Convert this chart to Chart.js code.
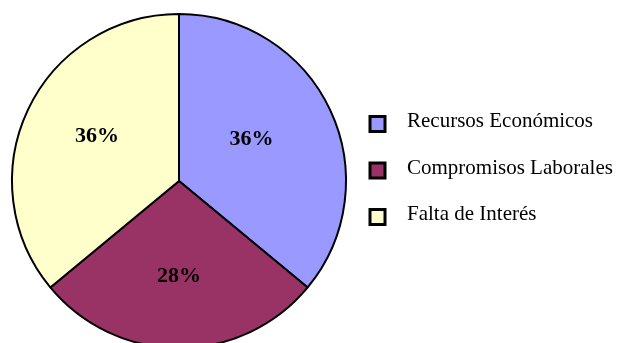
<!DOCTYPE html>
<html>
<head>
<meta charset="utf-8">
<script src="https://cdn.jsdelivr.net/npm/chart.js@4.4.1/dist/chart.umd.min.js"></script>
<style>
  html, body { margin: 0; padding: 0; background: #fff; overflow: hidden; }
  #wrap { position: relative; width: 619px; height: 343px; }
</style>
</head>
<body>
<div id="wrap"><canvas id="pie" width="619" height="343"></canvas></div>
<script>
const categories = ['Recursos Económicos', 'Compromisos Laborales', 'Falta de Interés'];
const values = [36, 28, 36];
const sliceColors = ['#9999FF', '#993366', '#FFFFCC'];

// percentage labels inside each slice
const sliceLabels = {
  id: 'sliceLabels',
  afterDatasetsDraw(chart, args, opts) {
    const ctx = chart.ctx;
    const meta = chart.getDatasetMeta(0);
    const total = values.reduce((a, b) => a + b, 0);
    ctx.save();
    ctx.font = 'bold 22px "Liberation Serif", "Times New Roman", serif';
    ctx.fillStyle = '#000';
    ctx.textAlign = 'center';
    ctx.textBaseline = 'middle';
    meta.data.forEach((arc, i) => {
      const p = arc.getProps(['x', 'y', 'startAngle', 'endAngle', 'outerRadius'], true);
      const mid = (p.startAngle + p.endAngle) / 2 + opts.shift[i];
      const r = p.outerRadius * opts.radius[i];
      const txt = Math.round(values[i] / total * 100) + '%';
      ctx.fillText(txt, p.x + Math.cos(mid) * r, p.y + Math.sin(mid) * r);
    });
    ctx.restore();
  }
};

// legend on the right: bordered squares and serif text
const sideLegend = {
  id: 'sideLegend',
  afterDraw(chart, args, opts) {
    const ctx = chart.ctx;
    const s = opts.box;
    ctx.save();
    ctx.font = '21px "Liberation Serif", "Times New Roman", serif';
    ctx.textBaseline = 'alphabetic';
    ctx.textAlign = 'left';
    chart.data.labels.forEach((lab, i) => {
      const cy = opts.top + i * opts.step;
      ctx.fillStyle = sliceColors[i];
      ctx.fillRect(opts.x, cy - s / 2, s, s);
      ctx.lineWidth = 3;
      ctx.strokeStyle = '#000';
      ctx.strokeRect(opts.x, cy - s / 2, s, s);
      ctx.fillStyle = '#000';
      ctx.fillText(lab, opts.textX, cy + 3);
    });
    ctx.restore();
  }
};

new Chart(document.getElementById('pie'), {
  type: 'pie',
  data: {
    labels: categories,
    datasets: [{
      data: values,
      backgroundColor: sliceColors,
      borderColor: '#000',
      borderWidth: 2,
      borderAlign: 'center',
      radius: 167,
      clip: false
    }]
  },
  options: {
    responsive: false,
    animation: false,
    events: [],
    layout: { padding: { left: 12, right: 273, top: 19, bottom: 0 } },
    plugins: {
      legend: { display: false },
      tooltip: { enabled: false },
      sliceLabels: { radius: [0.5, 0.57, 0.56], shift: [-0.08, 0, 0.06] },
      sideLegend: { x: 370, textX: 407, top: 124, step: 46.5, box: 15 }
    }
  },
  plugins: [sliceLabels, sideLegend]
});
</script>
</body>
</html>
